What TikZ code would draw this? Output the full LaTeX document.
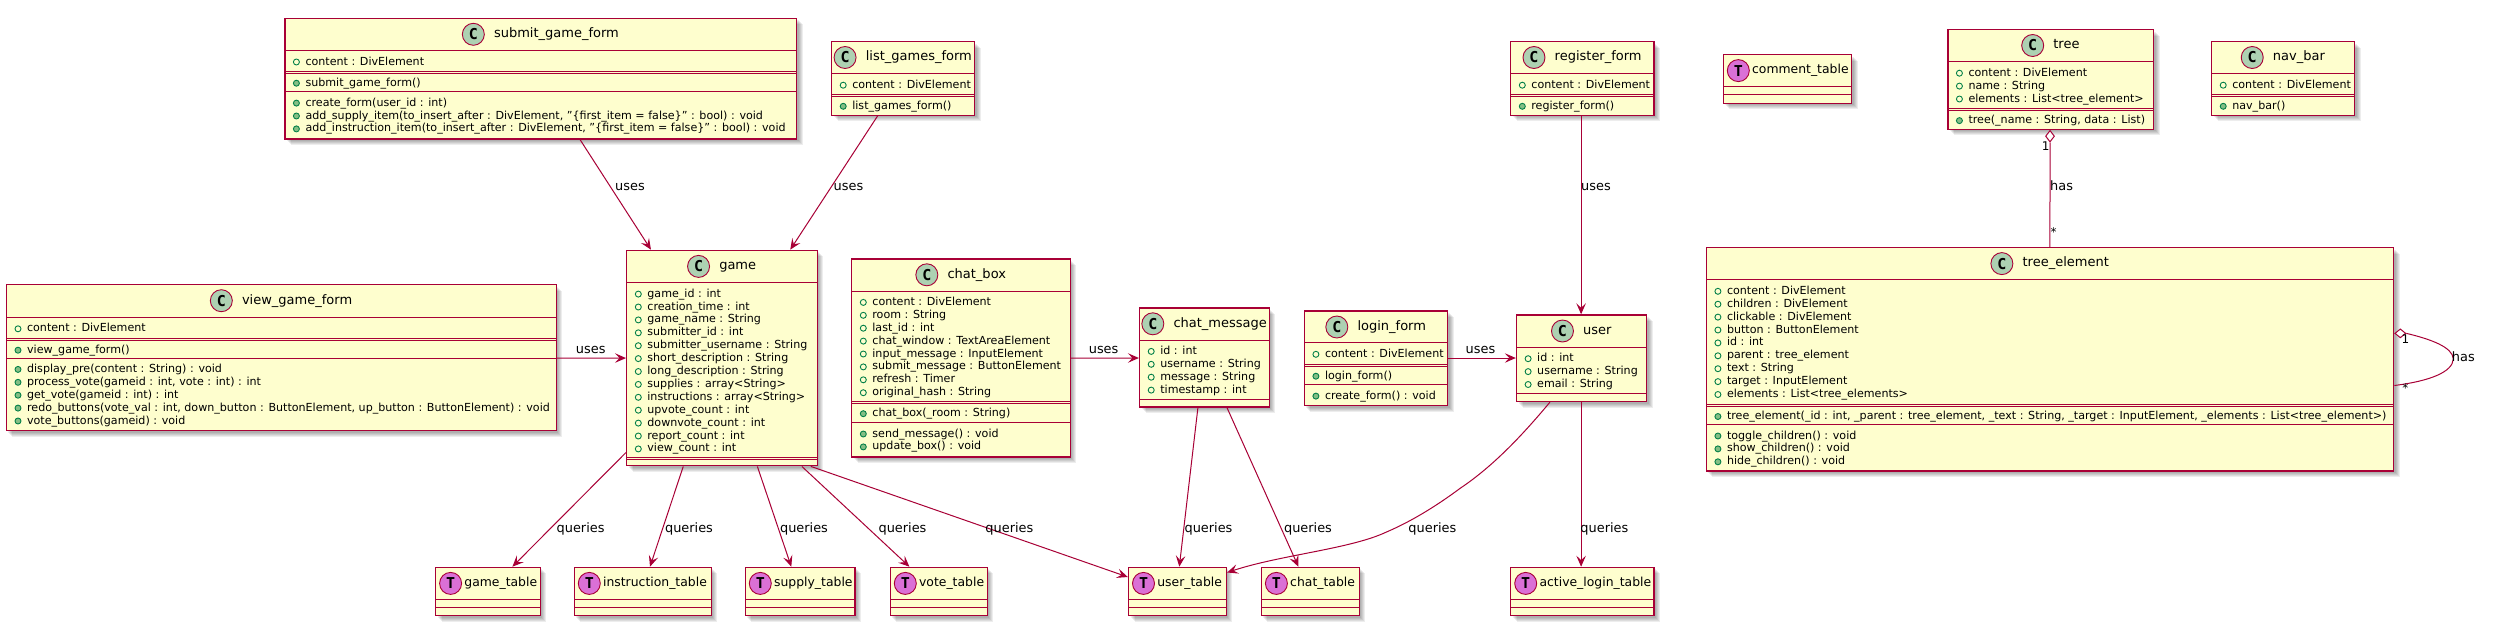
\documentclass[tikz,border=0pt]{standalone}
\usepackage{fontspec}
\setmainfont{DejaVu Sans}
\newfontfamily\iconfont{DejaVu Sans Mono}
\usetikzlibrary{arrows.meta,shapes.geometric,calc}
\definecolor{umlred}{HTML}{A80036}
\definecolor{umlfill}{HTML}{FEFECE}
\definecolor{iconc}{HTML}{ADD1B2}
\definecolor{icont}{HTML}{DA70D6}
\definecolor{visline}{HTML}{038048}
\definecolor{visfill}{HTML}{84BE84}
\tikzset{
  umlbox/.style={draw=umlred,fill=umlfill,line width=1.4pt,inner sep=0pt,rectangle},
  sepline/.style={draw=umlred,line width=1pt},
  titletext/.style={font=\fontsize{13}{15}\selectfont,inner sep=0pt,text height=9.5pt,text depth=2.8pt},
  tabletext/.style={font=\fontsize{12.4}{15}\selectfont,inner sep=0pt,text height=9.5pt,text depth=2.8pt,anchor=west},
  rowtext/.style={font=\fontsize{11.1}{13}\selectfont,inner sep=0pt,text height=8.5pt,text depth=2.5pt,anchor=west},
  rellabel/.style={font=\fontsize{12.9}{15}\selectfont,inner sep=0pt,text height=9.5pt,text depth=2.8pt},
  multlabel/.style={font=\fontsize{12}{14}\selectfont,inner sep=0pt},
  bigicon/.style={circle,draw=umlred,line width=0.9pt,minimum size=22pt,inner sep=0pt,font=\iconfont\bfseries\fontsize{15}{15}\selectfont},
  attricon/.style={circle,draw=visline,line width=0.9pt,minimum size=6pt,inner sep=0pt},
  methicon/.style={circle,draw=visline,fill=visfill,line width=0.9pt,minimum size=6pt,inner sep=0pt},
  rel/.style={draw=umlred,line width=1pt,-{Stealth[length=11pt,width=9.5pt,inset=4.5pt]}},
  plainrel/.style={draw=umlred,line width=1pt},
  aggr/.style={diamond,draw=umlred,line width=1pt,fill=white,inner sep=0pt,aspect=1},
  boxshadow/.style={fill=black,opacity=0.07,draw=none},
}
\newcounter{nid}
\newcommand\ubox[5]{%
  \def\bxa{#2}\def\bya{#3}\def\bxb{#4}\def\byb{#5}\def\rowx{#2}%
  \foreach \sh in {2,3,4,5,6}{\fill[boxshadow] (#2+\sh,#3+\sh) rectangle (#4+\sh,#5+\sh);}%
  \pgfmathsetmacro\bw{#4-#2}\pgfmathsetmacro\bh{#5-#3}%
  \node[umlbox,minimum width=\bw pt,minimum height=\bh pt] (#1) at ({(#2+#4)/2},{(#3+#5)/2}) {};%
}
\newcommand\classhead[2]{%
  \stepcounter{nid}%
  \node[titletext] (t\thenid) at ({(\bxa+\bxb)/2+15.75},\bya+16) {#2};%
  \node[bigicon,fill=iconc] (c\thenid) at ([xshift=-20.5pt]t\thenid.west) {C};%
}
\newcommand\tablehead[1]{%
  \stepcounter{nid}%
  \node[bigicon,fill=icont] (c\thenid) at (\bxa+15,\bya+16) {T};%
  \node[tabletext] (t\thenid) at (\bxa+28.6,\bya+16) {#1};%
}
\newcommand\sep[1]{\draw[sepline] (\bxa,#1) -- (\bxb,#1);\pgfmathsetmacro\rowy{#1+11.4}}
\newcommand\dsep[1]{\draw[sepline] (\bxa,#1) -- (\bxb,#1);\draw[sepline] (\bxa,#1+2.2) -- (\bxb,#1+2.2);\pgfmathsetmacro\rowy{#1+12.2}}
\newcommand\attrow[1]{\stepcounter{nid}%
  \node[attricon] (i\thenid) at (\rowx+11.6,\rowy) {};%
  \node[rowtext] (r\thenid) at (\rowx+20.5,\rowy) {#1};%
  \pgfmathsetmacro\rowy{\rowy+12.9}}
\newcommand\methrow[1]{\stepcounter{nid}%
  \node[methicon] (i\thenid) at (\rowx+11.6,\rowy) {};%
  \node[rowtext] (r\thenid) at (\rowx+20.5,\rowy) {#1};%
  \pgfmathsetmacro\rowy{\rowy+12.9}}
\newcommand\tablebox[6]{\ubox{#1}{#2}{#3}{#4}{#5}\tablehead{#6}\draw[sepline] (#2,#3+31.8) -- (#4,#3+31.8);\draw[sepline] (#2,#3+40.2) -- (#4,#3+40.2);}
\newcommand\rlab[3]{\stepcounter{nid}\node[rellabel] (l\thenid) at (#1,#2) {#3};}
\newcommand\mlab[3]{\stepcounter{nid}\node[multlabel] (l\thenid) at (#1,#2) {#3};}
\begin{document}
\begin{tikzpicture}[x=1pt,y=-1pt]
\path[use as bounding box,fill=white] (0,0) rectangle (2494,622);

% ---- boxes
\ubox{submit}{284.8}{18.3}{796.6}{139}
\classhead{C}{submit\_game\_form}
\sep{50.6}\attrow{content : DivElement}
\dsep{71}\methrow{submit\_game\_form()}
\sep{91.7}\methrow{create\_form(user\_id : int)}
\methrow{add\_supply\_item(to\_insert\_after : DivElement, "\{first\_item = false\}" : bool) : void}
\methrow{add\_instruction\_item(to\_insert\_after : DivElement, "\{first\_item = false\}" : bool) : void}

\ubox{view}{6.4}{284.7}{556.3}{430.6}
\classhead{C}{view\_game\_form}
\sep{317.4}\attrow{content : DivElement}
\dsep{338}\methrow{view\_game\_form()}
\sep{358}\methrow{display\_pre(content : String) : void}
\methrow{process\_vote(gameid : int, vote : int) : int}
\methrow{get\_vote(gameid : int) : int}
\methrow{redo\_buttons(vote\_val : int, down\_button : ButtonElement, up\_button : ButtonElement) : void}
\methrow{vote\_buttons(gameid) : void}

\ubox{game}{626.7}{250.4}{817.2}{465.7}
\classhead{C}{game}
\sep{282.7}\attrow{game\_id : int}
\attrow{creation\_time : int}
\attrow{game\_name : String}
\attrow{submitter\_id : int}
\attrow{submitter\_username : String}
\attrow{short\_description : String}
\attrow{long\_description : String}
\attrow{supplies : array<String>}
\attrow{instructions : array<String>}
\attrow{upvote\_count : int}
\attrow{downvote\_count : int}
\attrow{report\_count : int}
\attrow{view\_count : int}
\dsep{457.3}

\ubox{listg}{831.6}{41.5}{974.5}{115.2}
\classhead{C}{list\_games\_form}
\sep{73.8}\attrow{content : DivElement}
\dsep{94.1}\methrow{list\_games\_form()}

\ubox{chatbox}{851.7}{258.8}{1070.3}{456.9}
\classhead{C}{chat\_box}
\sep{291}\attrow{content : DivElement}
\attrow{room : String}
\attrow{last\_id : int}
\attrow{chat\_window : TextAreaElement}
\attrow{input\_message : InputElement}
\attrow{submit\_message : ButtonElement}
\attrow{refresh : Timer}
\attrow{original\_hash : String}
\dsep{401.5}\methrow{chat\_box(\_room : String)}
\sep{422.6}\methrow{send\_message() : void}
\methrow{update\_box() : void}

\ubox{chatmsg}{1139.6}{307.8}{1269.3}{407}
\classhead{C}{chat\_message}
\sep{340}\attrow{id : int}
\attrow{username : String}
\attrow{message : String}
\attrow{timestamp : int}
\sep{399.5}

\ubox{login}{1304.3}{311}{1447.7}{405.5}
\classhead{C}{login\_form}
\sep{342.9}\attrow{content : DivElement}
\dsep{364}\methrow{login\_form()}
\sep{384.7}\methrow{create\_form() : void}

\ubox{user}{1516.5}{315}{1646.7}{401.5}
\classhead{C}{user}
\sep{347.3}\attrow{id : int}
\attrow{username : String}
\attrow{email : String}
\sep{393.1}

\ubox{register}{1510.7}{41.5}{1654.1}{115.2}
\classhead{C}{register\_form}
\sep{73.8}\attrow{content : DivElement}
\dsep{94.1}\methrow{register\_form()}

\ubox{tree}{1947.8}{29.5}{2153.6}{129.2}
\classhead{C}{tree}
\sep{61.8}\attrow{content : DivElement}
\attrow{name : String}
\attrow{elements : List<tree\_element>}
\dsep{108.4}\methrow{tree(\_name : String, data : List)}

\ubox{navbar}{2211.6}{41.5}{2354.7}{115.2}
\classhead{C}{nav\_bar}
\sep{73.8}\attrow{content : DivElement}
\dsep{94.1}\methrow{nav\_bar()}

\ubox{treeel}{1706.3}{247.6}{2393.6}{470.9}
\classhead{C}{tree\_element}
\sep{279.9}\attrow{content : DivElement}
\attrow{children : DivElement}
\attrow{clickable : DivElement}
\attrow{button : ButtonElement}
\attrow{id : int}
\attrow{parent : tree\_element}
\attrow{text : String}
\attrow{target : InputElement}
\attrow{elements : List<tree\_elements>}
\dsep{404.3}\methrow{tree\_element(\_id : int, \_parent : tree\_element, \_text : String, \_target : InputElement, \_elements : List<tree\_element>)}
\sep{424.6}\methrow{toggle\_children() : void}
\methrow{show\_children() : void}
\methrow{hide\_children() : void}

\tablebox{gamet}{435.6}{567.4}{540.4}{615.6}{game\_table}
\tablebox{instrt}{574.3}{567.4}{711.4}{615.6}{instruction\_table}
\tablebox{supplyt}{745.3}{567.4}{854.9}{615.6}{supply\_table}
\tablebox{votet}{890.3}{567.4}{987.2}{615.6}{vote\_table}
\tablebox{usert}{1128.5}{567.4}{1226.4}{615.6}{user\_table}
\tablebox{chatt}{1261.4}{567.4}{1359.3}{615.6}{chat\_table}
\tablebox{activet}{1510.7}{567.4}{1654.1}{615.6}{active\_login\_table}
\tablebox{commentt}{1723.3}{54.6}{1851.5}{103.3}{comment\_table}

% ---- connectors
\draw[rel] ([xshift=39.4pt]submit.south) -- ([xshift=-71pt]game.north);
\draw[rel] ([xshift=-25.45pt]listg.south) -- ([xshift=68.3pt]game.north);
\draw[rel] ([yshift=-0.35pt]view.east) -- ([yshift=0pt]game.west);
\draw[rel] ([yshift=-0.15pt]chatbox.east) -- ([yshift=-0.6pt]chatmsg.west);
\draw[rel] ([yshift=0.25pt]login.east) -- ([yshift=0.25pt]user.west);
\draw[rel] ([xshift=-1.3pt]register.south) -- ([xshift=-0.5pt]user.north);
\draw[rel] ([yshift=-94.45pt]game.west) -- ([xshift=24.4pt]gamet.north);
\draw[rel] ([xshift=-38.7pt]game.south) -- ([xshift=7.15pt]instrt.north);
\draw[rel] ([xshift=35.4pt]game.south) -- ([xshift=-8.8pt]supplyt.north);
\draw[rel] ([xshift=79.9pt]game.south) -- ([xshift=-29.35pt]votet.north);
\draw[rel] ([xshift=88.9pt]game.south) -- ([yshift=14.5pt]usert.west);
\draw[rel] ([xshift=-6.55pt]chatmsg.south) -- ([xshift=1.85pt]usert.north);
\draw[rel] ([xshift=22.55pt]chatmsg.south) -- ([xshift=-11.95pt]chatt.north);
\draw[rel] ([xshift=-31.7pt]user.south) .. controls (1525,432) and (1495,465) .. (1460,488.4) .. controls (1435,507) and (1410,522) .. (1385.8,532.3) .. controls (1350,549) and (1280,555) .. ([yshift=19pt]usert.east);
\draw[rel] ([xshift=-0.5pt]user.south) -- ([xshift=-1.3pt]activet.north);

\node[aggr,minimum width=9pt,minimum height=11.6pt,anchor=north] (dtree) at ([xshift=-0.7pt]tree.south) {};
\draw[plainrel] (dtree.south) -- ([xshift=0pt]treeel.north);
\node[aggr,minimum width=11pt,minimum height=9pt,anchor=west] (dself) at ([yshift=25.9pt]treeel.east) {};
\coordinate (selfmid) at ([xshift=59pt,yshift=0.4pt]treeel.east);
\draw[plainrel] (dself.east) .. controls (2430,339) and (2452.7,347) .. (selfmid) .. controls (2452.7,372) and (2430,381) .. ([yshift=-26.25pt]treeel.east);

% ---- labels
\rlab{630}{187.4}{uses}
\rlab{848.5}{187.4}{uses}
\rlab{1596}{187.4}{uses}
\rlab{590.7}{350}{uses}
\rlab{1103.6}{350}{uses}
\rlab{1480.5}{350}{uses}
\rlab{580.6}{529}{queries}
\rlab{689}{529}{queries}
\rlab{804}{529}{queries}
\rlab{902.5}{529}{queries}
\rlab{1009.4}{529}{queries}
\rlab{1208.5}{529}{queries}
\rlab{1308}{529}{queries}
\rlab{1432.4}{529}{queries}
\rlab{1604.4}{529}{queries}
\rlab{2061.6}{187.4}{has}
\rlab{2463.3}{358.5}{has}
\mlab{2045.7}{146}{1}
\mlab{2053.7}{232}{*}
\mlab{2405.3}{339}{1}
\mlab{2405.3}{388}{*}
\end{tikzpicture}
\end{document}
